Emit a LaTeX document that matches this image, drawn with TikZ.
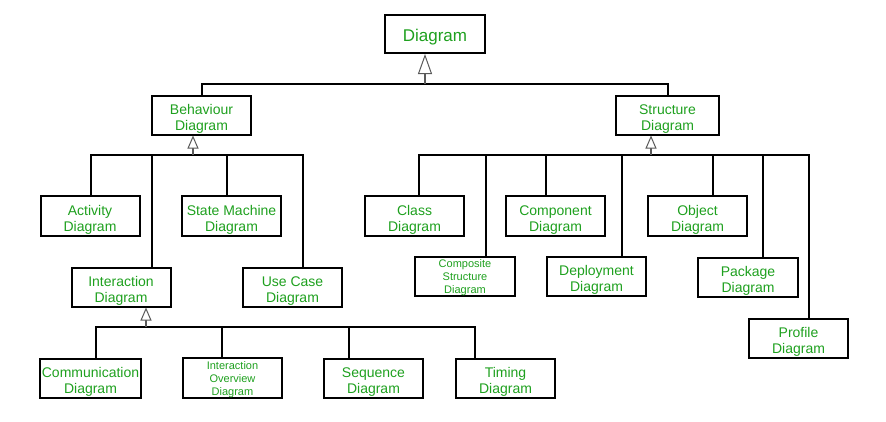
\documentclass[tikz,border=0pt]{standalone}
\usepackage{fontspec}
\setmainfont{Liberation Sans}
\usetikzlibrary{arrows.meta}
\definecolor{LabelClr}{RGB}{30,160,30}
\definecolor{TipClr}{RGB}{90,90,90}

\tikzset{
  umlbox/.style={draw, line width=2pt, text=LabelClr, inner sep=0pt,
    minimum width=99pt, minimum height=39pt, align=center,
    font=\fontsize{14}{16}\selectfont, text height=33pt},
  smallbox/.style={umlbox, font=\fontsize{11}{13}\selectfont,
    text height=37pt},
  link/.style={line width=2pt},
  genbig/.style={line width=1.2pt, color=TipClr,
    -{Triangle[open, length=20pt, width=14pt, line width=1pt, fill=white]}},
  gen/.style={line width=1.2pt, color=TipClr,
    -{Triangle[open, length=13pt, width=11pt, line width=1pt, fill=white]}}
}

\begin{document}
\begin{tikzpicture}[x=1pt,y=-1pt]
\useasboundingbox (0,0) rectangle (886,421);

% Root and the two main kinds.
\node[umlbox, minimum width=100pt, minimum height=38pt, text height=19pt,
      font=\fontsize{17}{19}\selectfont] (diag) at (435,34) {Diagram};
\node[umlbox] (behav) at (201.5,115) {Behaviour\\Diagram};
\node[umlbox, minimum width=103pt] (struc) at (667.5,115) {Structure\\Diagram};

% Behaviour diagrams.
\node[umlbox, minimum height=40pt] (activ) at (90,216) {Activity\\Diagram};
\node[umlbox, minimum height=40pt] (state) at (231.5,216) {State Machine\\Diagram};
\node[umlbox] (inter) at (121,287) {Interaction\\Diagram};
\node[umlbox] (usecase) at (292.5,287) {Use Case\\Diagram};

% Interaction diagrams.
\node[umlbox, minimum width=101pt] (commu) at (90.5,378) {Communication\\Diagram};
\node[smallbox] (overv) at (232.5,378) {Interaction\\Overview\\ Diagram};
\node[umlbox] (seque) at (373.5,378) {Sequence\\Diagram};
\node[umlbox] (timing) at (505.5,378) {Timing\\Diagram};

% Structure diagrams.
\node[umlbox, minimum height=40pt] (class) at (414.5,216) {Class\\Diagram};
\node[smallbox, minimum width=100pt] (compos) at (465,276.5) {Composite\\Structure\\Diagram};
\node[umlbox, minimum height=40pt] (compon) at (555.5,216) {Component\\Diagram};
\node[umlbox] (deploy) at (596.5,276.5) {Deployment\\Diagram};
\node[umlbox, minimum height=40pt] (object) at (697.5,216) {Object\\Diagram};
\node[umlbox, minimum width=100pt] (packag) at (748,277) {Package\\Diagram};
\node[umlbox] (profil) at (798.5,338) {Profile\\Diagram};

% Points on the buses below each parent.
\coordinate (diagBus) at (425,84);
\coordinate (behavBus) at (193,155);
\coordinate (strucBus) at (651,155);
\coordinate (interBus) at (146,327);

% Children to the buses.
\foreach \kid/\dx in {behav/0, struc/0}
  \draw[link] ([xshift=\dx pt]\kid.north) |- (diagBus);
\foreach \kid/\dx in {activ/1, state/-4.5, inter/31, usecase/10.5}
  \draw[link] ([xshift=\dx pt]\kid.north) |- (behavBus);
\foreach \kid/\dx in {commu/5.5, overv/-10.5, seque/-24.5, timing/-30.5}
  \draw[link] ([xshift=\dx pt]\kid.north) |- (interBus);
\foreach \kid/\dx in {class/4.5, compos/21, compon/-9.5, deploy/25.5,
                      object/15.5, packag/15, profil/10.5}
  \draw[link] ([xshift=\dx pt]\kid.north) |- (strucBus);

% Generalisation arrows up to the parents.
\draw[genbig] (diagBus) -- (diag.south -| diagBus);
\draw[gen] (behavBus) -- (behav.south -| behavBus);
\draw[gen] (strucBus) -- (struc.south -| strucBus);
\draw[gen] (interBus) -- (inter.south -| interBus);

\end{tikzpicture}
\end{document}
